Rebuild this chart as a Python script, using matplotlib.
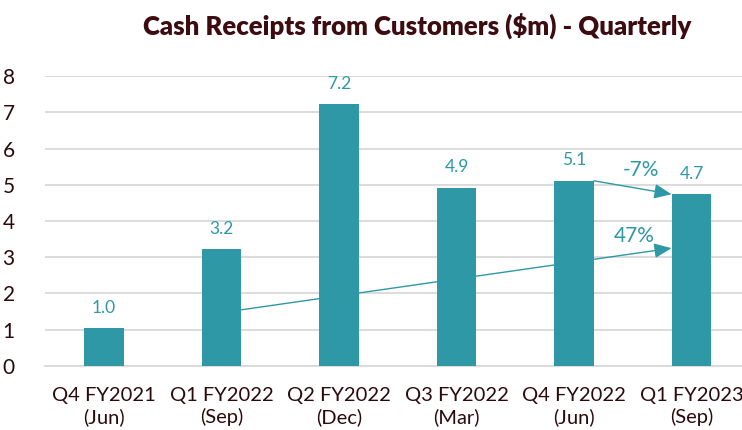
import matplotlib.pyplot as plt

plt.rcParams['font.family'] = ['Lato', 'DejaVu Sans']

# Data
quarters = ['Q4 FY2021\n(Jun)', 'Q1 FY2022\n(Sep)', 'Q2 FY2022\n(Dec)',
            'Q3 FY2022\n(Mar)', 'Q4 FY2022\n(Jun)', 'Q1 FY2023\n(Sep)']
receipts = [1.04, 3.22, 7.22, 4.92, 5.11, 4.74]

teal = '#2E98A7'
dark = '#2B0A0E'

fig = plt.figure(figsize=(7.42, 4.30), dpi=100)
ax = fig.add_axes([0.061, 0.149, 0.939, 0.674])

x = range(len(quarters))
ax.bar(x, receipts, width=0.34, color=teal, zorder=3)

for xi, v in zip(x, receipts):
    ax.annotate(f'{v:.1f}', (xi, v), xytext=(0, 9), textcoords='offset points',
                ha='center', va='bottom', color=teal, fontsize=12.5)

# growth arrows
qoq = receipts[5] / receipts[4] - 1
yoy = receipts[5] / receipts[1] - 1
arrow = dict(arrowstyle='-|>,head_length=0.7,head_width=0.3', color=teal, lw=1,
             mutation_scale=15, shrinkA=0, shrinkB=0)
ax.annotate('', xy=(4.83, receipts[5]), xytext=(4.17, receipts[4]),
            arrowprops=arrow, zorder=4)
ax.annotate('', xy=(4.83, 3.25), xytext=(1.17, 1.55), arrowprops=arrow, zorder=4)
ax.text(4.57, 5.4, f'{qoq:.0%}', color=teal, fontsize=15, ha='center', va='center')
ax.text(4.51, 3.58, f'{yoy:.0%}', color=teal, fontsize=15, ha='center', va='center')

ax.set_xlim(-0.5, 5.43)
ax.set_ylim(0, 8)
ax.set_xticks(list(x))
ax.set_xticklabels(quarters, fontsize=14.5, color=dark, linespacing=1.3)
ax.set_yticks(range(9))
ax.tick_params(axis='y', labelsize=15, labelcolor=dark, length=0, pad=22)
ax.tick_params(axis='x', length=0, pad=15)
ax.grid(axis='y', color='#D9D9D9', lw=1.3, zorder=0)
for s in ['top', 'right', 'left']:
    ax.spines[s].set_visible(False)
ax.spines['bottom'].set_color('#D9D9D9')
ax.spines['bottom'].set_linewidth(1.3)

fig.text(0.562, 0.94, 'Cash Receipts from Customers ($m) - Quarterly',
         ha='center', va='center', fontsize=18.5, fontweight='heavy', color='#3D0C11')

fig.savefig('out.png', dpi=100)
